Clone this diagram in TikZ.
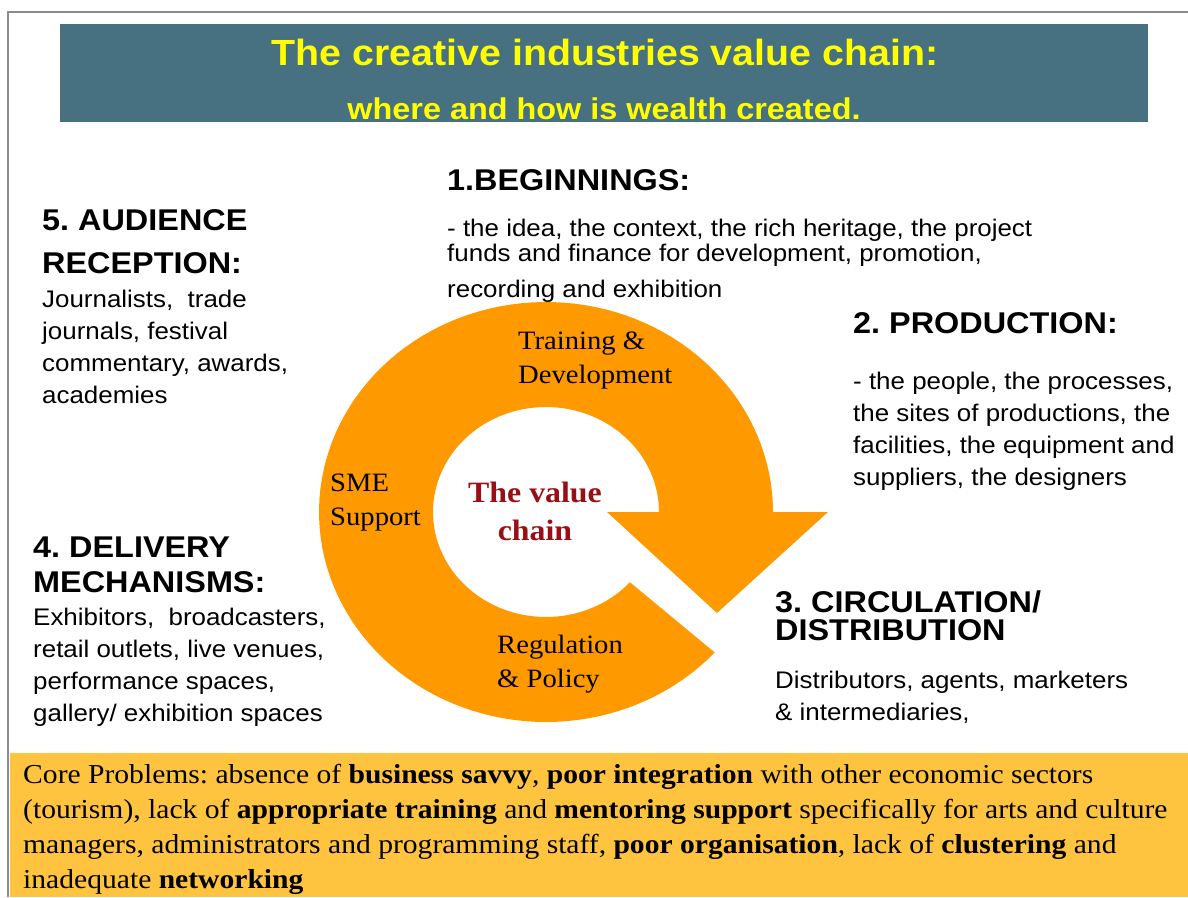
\documentclass[tikz,border=0pt]{standalone}
\usepackage{fontspec}
\setmainfont{Liberation Serif}
\setsansfont{Liberation Sans}
\usetikzlibrary{positioning}
\frenchspacing
\definecolor{titlebg}{HTML}{477080}
\definecolor{titleyellow}{HTML}{FFFF00}
\definecolor{ringorange}{HTML}{FF9900}
\definecolor{corebg}{HTML}{FFC43F}
\definecolor{valuered}{HTML}{990F14}
\definecolor{framegray}{HTML}{8C8C8C}
\tikzset{
stretch/.style={xscale=1.08}, % the source is a little wider than tall
heading/.style={stretch, inner sep=0pt, anchor=base west, align=left, font=\sffamily\bfseries\fontsize{30}{43}\selectfont}, % numbered stage titles
body/.style={stretch, inner sep=0pt, anchor=base west, align=left, font=\sffamily\fontsize{24}{32}\selectfont}, % text under each stage
ringtext/.style={stretch, inner sep=0pt, anchor=base west, align=left, font=\fontsize{26.5}{33.5}\selectfont}, % labels on the ring
}

\begin{document}
\begin{tikzpicture}[x=1pt, y=-1pt]
\useasboundingbox (0,0) rectangle (1188,897);
\fill[white] (0,0) rectangle (1188,897);
% frame and title
\draw[framegray, line width=2pt] (8,897) -- (8,12) -- (1188,12);
\fill[titlebg] (60,24) rectangle (1148,122);
\node[stretch, inner sep=0pt, anchor=base, text=titleyellow, font=\sffamily\bfseries\fontsize{36.4}{40}\selectfont] (title) at (605,65) {The creative industries value chain:};
\node[stretch, inner sep=0pt, anchor=base, text=titleyellow, font=\sffamily\bfseries\fontsize{30}{34}\selectfont] (subtitle) at (604,119) {where and how is wealth created.};
% the ring arrow (base lines below are those of the last line)
\fill[ringorange] plot[domain=42:360, samples=120] ({546+227*cos(\x)},{512+210*sin(\x)})
    -- (828,512) -- (717,613) -- (607,512)
    -- plot[domain=360:42, samples=120] ({546+113*cos(\x)},{512+105*sin(\x)}) -- cycle;
\node[ringtext] (train) at (518,383) {Training \&\\Development};
\node[ringtext] (sme) at (330,525) {SME\\Support};
\node[ringtext] (reg) at (497,687) {Regulation\\\& Policy};
\node[stretch, inner sep=0pt, anchor=base, align=center, text=valuered, font=\bfseries\fontsize{29.5}{38}\selectfont] (value) at (535,540) {The value\\chain};
% the five stages
\node[heading] (beg) at (447,190) {1.BEGINNINGS:};
\node[body] (begtxt) at (447,297) {- the idea, the context, the rich heritage, the project\\[-7pt]
    funds and finance for development, promotion,\\[4pt]
    recording and exhibition};
\node[heading] (prod) at (853,333) {2. PRODUCTION:};
\node[body] (prodtxt) at (853,485) {- the people, the processes,\\the sites of productions, the\\facilities, the equipment and\\suppliers, the designers};
\node[heading, font=\sffamily\bfseries\fontsize{30}{28}\selectfont] (circ) at (775,640) {3. CIRCULATION/\\DISTRIBUTION};
\node[body] (circtxt) at (775,720) {Distributors, agents, marketers\\\& intermediaries,};
\node[heading, font=\sffamily\bfseries\fontsize{30}{35}\selectfont] (deliv) at (33,592) {4. DELIVERY\\MECHANISMS:};
\node[body] (delivtxt) at (33,721) {Exhibitors,\ \ broadcasters,\\retail outlets, live venues,\\performance spaces,\\gallery/ exhibition spaces};
\node[heading] (aud) at (42,273) {5. AUDIENCE\\RECEPTION:};
\node[body] (audtxt) at (42,403) {Journalists,\ \ trade\\journals, festival\\commentary, awards,\\academies};
% core problems
\fill[corebg] (10,753) rectangle (1188,897);
\node[stretch, inner sep=0pt, anchor=base west, align=left, font=\fontsize{27.4}{35}\selectfont] (core) at (23,888) {Core Problems: absence of \textbf{business savvy}, \textbf{poor integration} with other economic sectors\\
    (tourism), lack of \textbf{appropriate training} and \textbf{mentoring support} specifically for arts and culture\\
    managers, administrators and programming staff, \textbf{poor organisation}, lack of \textbf{clustering} and\\
    inadequate \textbf{networking}};
\end{tikzpicture}
\end{document}
